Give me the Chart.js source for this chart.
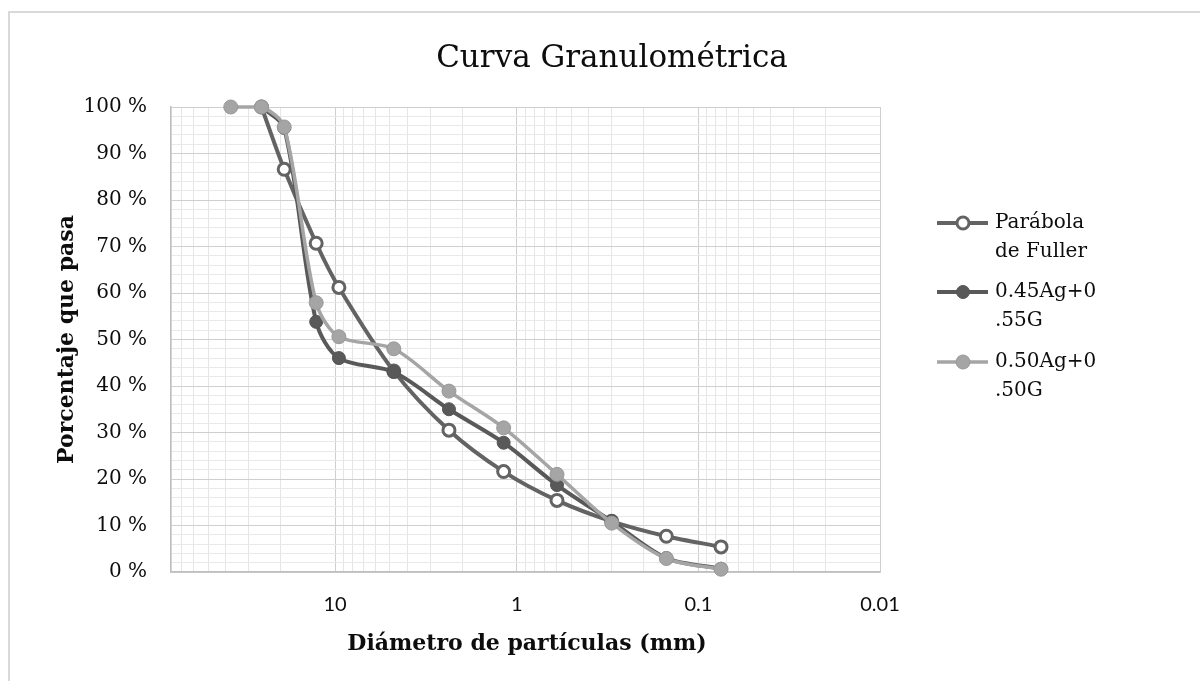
<!DOCTYPE html>
<html>
<head>
<meta charset="utf-8">
<title>Curva Granulométrica</title>
<script src="https://cdn.jsdelivr.net/npm/chart.js@4.4.1/dist/chart.umd.min.js"></script>
<style>
  html, body { margin: 0; padding: 0; background: #fff; }
  #wrap { position: relative; width: 1200px; height: 681px; }
</style>
</head>
<body>
<div id="wrap"><canvas id="curve" width="1200" height="681"></canvas></div>
<script>
// sieve openings (mm) and % passing for each curve
const sieveSizes = [37.5, 25.4, 19.05, 12.7, 9.525, 4.75, 2.36, 1.18, 0.6, 0.3, 0.15, 0.075];
const fuller = [null, 100, 86.6, 70.7, 61.2, 43.2, 30.5, 21.6, 15.4, 10.9, 7.7, 5.4];
const mix45 = [null, 100, 95.5, 53.8, 46.0, 43.0, 35.0, 27.8, 18.7, 10.9, 3.0, 0.7];
const mix50 = [100, 100, 95.7, 57.9, 50.6, 48.0, 38.9, 31.0, 21.0, 10.5, 2.9, 0.6];
const seriesNames = [["Parábola", "de Fuller"], ["0.45Ag+0", ".55G"], ["0.50Ag+0", ".50G"]];
const xTickLabels = ["10", "1", "0.1", "0.01"];
const xDecades = [0.01, 0.1, 1, 10];
const xMin = 0.01;
const xMax = 80;

const serif = '"DejaVu Serif", serif';

function toPoints(values) {
  return sieveSizes.map((d, i) => ({ x: d, y: values[i] }));
}

function isDecade(v) {
  const l = Math.log10(v);
  return Math.abs(l - Math.round(l)) < 1e-6;
}

// 1..9 lines inside every decade, cut at the axis maximum
const xGrid = [];
xDecades.forEach(d => {
  for (let m = 1; m <= 9; m++) {
    const v = parseFloat((m * d).toPrecision(3));
    if (v <= xMax) xGrid.push(v);
  }
});
if (xGrid[xGrid.length - 1] !== xMax) xGrid.push(xMax);

const datasets = [
  {
    label: seriesNames[0].join(" "),
    data: toPoints(fuller),
    borderColor: "#636363",
    borderWidth: 4,
    pointRadius: 6,
    pointBorderWidth: 3,
    pointBackgroundColor: "#ffffff",
    pointBorderColor: "#636363",
    order: 3
  },
  {
    label: seriesNames[1].join(" "),
    data: toPoints(mix45),
    borderColor: "#595959",
    borderWidth: 4,
    pointRadius: 6.5,
    pointBorderWidth: 1,
    pointBackgroundColor: "#595959",
    pointBorderColor: "#555555",
    order: 2
  },
  {
    label: seriesNames[2].join(" "),
    data: toPoints(mix50),
    borderColor: "#a5a5a5",
    borderWidth: 3.5,
    pointRadius: 7,
    pointBorderWidth: 1,
    pointBackgroundColor: "#a5a5a5",
    pointBorderColor: "#999999",
    order: 1
  }
];
datasets.forEach(ds => {
  ds.tension = 0.3;
  ds.clip = false;
  ds.fill = false;
  ds.pointHoverRadius = ds.pointRadius;
});

// frame, titles and the two-line legend on the right
const decorations = {
  id: "decorations",
  beforeDraw(chart) {
    const ctx = chart.ctx;
    ctx.save();
    ctx.fillStyle = "#ffffff";
    ctx.fillRect(0, 0, chart.width, chart.height);
    ctx.strokeStyle = "#d9d9d9";
    ctx.lineWidth = 2;
    ctx.strokeRect(9, 12, chart.width + 20, chart.height + 20);
    ctx.restore();
  },
  afterDraw(chart) {
    const ctx = chart.ctx;
    const area = chart.chartArea;
    ctx.save();
    ctx.fillStyle = "#0d0d0d";

    ctx.font = "31px " + serif;
    ctx.textAlign = "center";
    ctx.textBaseline = "alphabetic";
    ctx.fillText("Curva Granulométrica", 612, 67);

    ctx.font = "bold 22px " + serif;
    ctx.fillText("Diámetro de partículas (mm)", 527, 650);

    ctx.save();
    ctx.font = "bold 22px " + serif;
    ctx.translate(73, (area.top + area.bottom) / 2);
    ctx.rotate(-Math.PI / 2);
    ctx.fillText("Porcentaje que pasa", 0, 0);
    ctx.restore();

    const rows = [223, 292, 362];
    chart.data.datasets.forEach((ds, i) => {
      const y = rows[i];
      ctx.strokeStyle = ds.borderColor;
      ctx.lineWidth = ds.borderWidth;
      ctx.beginPath();
      ctx.moveTo(937, y);
      ctx.lineTo(988, y);
      ctx.stroke();
      ctx.beginPath();
      ctx.arc(963, y, ds.pointRadius, 0, Math.PI * 2);
      ctx.fillStyle = ds.pointBackgroundColor;
      ctx.fill();
      ctx.lineWidth = ds.pointBorderWidth;
      ctx.strokeStyle = ds.pointBorderColor;
      ctx.stroke();

      ctx.fillStyle = "#0d0d0d";
      ctx.font = "20px " + serif;
      ctx.textAlign = "left";
      ctx.textBaseline = "middle";
      seriesNames[i].forEach((line, k) => {
        ctx.fillText(line, 995, y + k * 29);
      });
    });
    ctx.restore();
  }
};

const ctx = document.getElementById("curve").getContext("2d");
new Chart(ctx, {
  type: "line",
  data: { datasets: datasets },
  plugins: [decorations],
  options: {
    responsive: false,
    animation: false,
    events: [],
    layout: { padding: { left: 0, top: 107, right: 320, bottom: 0 } },
    plugins: {
      legend: { display: false },
      title: { display: false },
      tooltip: { enabled: false }
    },
    scales: {
      x: {
        type: "logarithmic",
        reverse: true,
        min: xMin,
        max: xMax,
        afterBuildTicks(scale) {
          scale.ticks = xGrid.map(v => ({ value: v, major: isDecade(v) }));
        },
        afterFit(scale) {
          scale.height = 681 - 572;
        },
        ticks: {
          autoSkip: false,
          maxRotation: 0,
          padding: 21,
          color: "#0d0d0d",
          font: { family: "Lato", size: 20 },
          callback(value) {
            if (!isDecade(value)) return "";
            const label = xTickLabels.find(t => Math.abs(Number(t) - value) < 1e-9);
            return label || "";
          }
        },
        grid: {
          drawTicks: false,
          lineWidth: 1,
          color: c => (c.tick && isDecade(c.tick.value) ? "#cfcfcf" : "#e6e6e6")
        },
        border: { display: true, color: "#bfbfbf", width: 1.5 }
      },
      y: {
        type: "linear",
        min: 0,
        max: 100,
        afterFit(scale) {
          scale.width = 171;
        },
        ticks: {
          stepSize: 2,
          autoSkip: false,
          padding: 24,
          color: "#0d0d0d",
          font: { family: "DejaVu Serif", size: 20 },
          callback(value) {
            return value % 10 === 0 ? value + " %" : "";
          }
        },
        grid: {
          drawTicks: false,
          lineWidth: 1,
          color: c => (c.tick && c.tick.value % 10 === 0 ? "#cfcfcf" : "#e9e9e9")
        },
        border: { display: true, color: "#bfbfbf", width: 1.5 }
      }
    }
  }
});
</script>
</body>
</html>
